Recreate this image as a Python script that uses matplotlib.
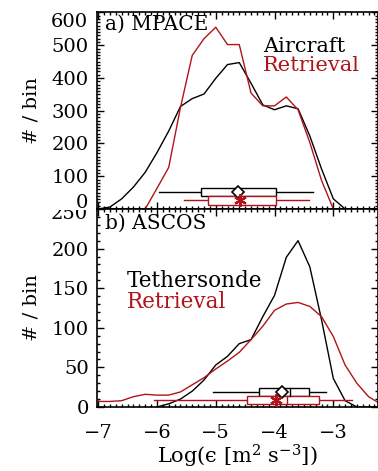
import numpy as np
import matplotlib
matplotlib.use("Agg")
import matplotlib.pyplot as plt
from matplotlib.patches import Rectangle
from matplotlib.transforms import Bbox

plt.rcParams['font.family'] = ['DejaVu Serif']
plt.rcParams['mathtext.fontset'] = 'dejavuserif'
plt.rcParams['font.size'] = 14

BLACK = 'black'
RED = '#b0141a'
W, H = 378, 471

# histogram bin centres (log10 epsilon)
bins_a = [-7.0, -6.8, -6.6, -6.4, -6.2, -6.0, -5.8, -5.6, -5.4, -5.2, -5.0, -4.8, -4.6,
          -4.4, -4.2, -4.0, -3.8, -3.6, -3.4, -3.2, -3.0, -2.8, -2.6, -2.4, -2.2]
aircraft = [0, 6, 31, 67, 112, 172, 238, 313, 337, 351, 399, 441, 447,
            384, 318, 303, 315, 306, 223, 122, 31, 0, 0, 0, 0]
retrieval_a = [0, 0, 0, 0, 0, 63, 127, 310, 469, 520, 555, 502, 502,
               354, 315, 315, 342, 303, 203, 87, 0, 0, 0, 0, 0]

bins_b_teth = [-6.0, -5.8, -5.6, -5.4, -5.2, -5.0, -4.8, -4.6, -4.4, -4.2, -4.0, -3.8,
               -3.6, -3.4, -3.2, -3.0, -2.8, -2.6, -2.4, -2.2]
tethersonde = [0, 4, 10, 20, 34, 53, 64, 80, 85, 114, 141, 189,
               210, 177, 110, 36, 8, 0, 0, 0]
bins_b_ret = [-7.0, -6.8, -6.6, -6.4, -6.2, -6.0, -5.8, -5.6, -5.4, -5.2, -5.0, -4.8, -4.6,
              -4.4, -4.2, -4.0, -3.8, -3.6, -3.4, -3.2, -3.0, -2.8, -2.6, -2.4, -2.2]
retrieval_b = [7, 7, 8, 13, 16, 15, 15, 19, 28, 37, 48, 58, 69,
               85, 102, 122, 130, 132, 127, 114, 89, 53, 30, 13, 4]

# box summaries: whisker low, box low, median, box high, whisker high, mean
box_aircraft = [-5.97, -5.25, -4.63, -3.97, -3.34, -4.63]
box_ret_a = [-5.54, -5.14, -4.58, -3.97, -3.42, -4.58]
box_teth = [-5.05, -4.27, -3.73, -3.41, -3.12, -3.88]
box_ret_b = [-6.05, -4.46, -3.78, -3.25, -2.69, -3.98]

yticks_a = [0, 100, 200, 300, 400, 500, 600]
yticks_b = [0, 50, 100, 150, 200, 250]


def draw_box(ax, stats, y0, y1, color, marker):
    wl, bl, med, bh, wh, mean = stats
    ym = (y0 + y1) / 2
    ax.plot([wl, bl], [ym, ym], color=color, lw=1, zorder=3)
    ax.plot([bh, wh], [ym, ym], color=color, lw=1, zorder=3)
    ax.add_patch(Rectangle((bl, y0), bh - bl, y1 - y0, facecolor='white',
                           edgecolor=color, lw=1, zorder=4))
    ax.plot([med, med], [y0, y1], color=color, lw=1, zorder=5)
    if marker == 'd':
        ax.plot(mean, ym, marker='D', ms=6, mfc='white', mec=color, mew=1.2, zorder=6)
    else:
        ax.plot(mean, ym, marker=(6, 2, 0), ms=9, color=color, mew=1.6, zorder=6)


def style(ax):
    ax.tick_params(which='both', direction='in', top=True, right=True)
    ax.tick_params(which='major', length=5, width=1)
    ax.tick_params(which='minor', length=2.5, width=1)
    ax.tick_params(axis='y', pad=6)
    ax.tick_params(axis='x', pad=12)
    for s in ax.spines.values():
        s.set_linewidth(1.2)
    ax.set_xlim(-7.02, -2.24)
    ax.set_xticks([-7, -6, -5, -4, -3])
    ax.set_xticks(np.arange(-7, -2.2, 0.1), minor=True)


def ylab(text, py):
    # tick label placed by hand (pixel row py from the top)
    return fig.text(88 / W, 1 - py / H, text, ha='right', va='center')


fig = plt.figure(figsize=(3.78, 4.71), dpi=100)
left = 97 / W
ax1 = fig.add_axes([left, 0.5563, 1.0 - left, 0.4172])
ax2 = fig.add_axes([left, 0.1359, 1.0 - left, 0.4204])

# panel a
style(ax1)
ax1.plot(bins_a, aircraft, color=BLACK, lw=1)
ax1.plot(bins_a, retrieval_a, color=RED, lw=1)
draw_box(ax1, box_aircraft, 40, 64, BLACK, 'd')
draw_box(ax1, box_ret_a, 13, 39, RED, '*')
ax1.set_ylim(0, 600)
ax1.set_yticks(yticks_a)
ax1.set_yticklabels(['' if v in (0, 600) else str(v) for v in yticks_a])
ax1.set_yticks(np.arange(0, 601, 10), minor=True)
ax1.set_xticklabels([])
ax1.set_ylabel('# / bin', labelpad=8)
ylab(str(yticks_a[-1]), 22)
ylab(str(yticks_a[0]), 203)
ax1.text(0.03, 0.94, 'a) MPACE', transform=ax1.transAxes, ha='left', va='center', fontsize=14.5)
ax1.text(0.591, 0.828, 'Aircraft', transform=ax1.transAxes, ha='left', va='center',
         color=BLACK, fontsize=15)
ax1.text(0.591, 0.73, 'Retrieval', transform=ax1.transAxes, ha='left', va='center',
         color=RED, fontsize=15)

# panel b
style(ax2)
ax2.plot(bins_b_teth, tethersonde, color=BLACK, lw=1)
ax2.plot(bins_b_ret, retrieval_b, color=RED, lw=1)
draw_box(ax2, box_teth, 14, 24, BLACK, 'd')
draw_box(ax2, box_ret_b, 4, 14, RED, '*')
ax2.set_ylim(0, 248)
ax2.set_yticks(yticks_b)
ax2.set_yticklabels(['' if v == 250 else str(v) for v in yticks_b])
ax2.set_yticks(np.arange(0, 249, 10), minor=True)
ax2.set_ylabel('# / bin', labelpad=8)
ax2.set_xlabel('Log(\u03f5 [m$^2$ s$^{-3}$])', labelpad=1, fontsize=15)
top_lab = ylab(str(yticks_b[-1]), 214)
top_lab.set_clip_box(Bbox.from_extents(0, 0, 97, H - 210))
top_lab.set_clip_on(True)
ax2.text(0.03, 0.93, 'b) ASCOS', transform=ax2.transAxes, ha='left', va='center', fontsize=14.5)
ax2.text(0.107, 0.635, 'Tethersonde', transform=ax2.transAxes, ha='left', va='center',
         color=BLACK, fontsize=15.5)
ax2.text(0.107, 0.53, 'Retrieval', transform=ax2.transAxes, ha='left', va='center',
         color=RED, fontsize=15.5)

fig.savefig('out.png', dpi=100)
